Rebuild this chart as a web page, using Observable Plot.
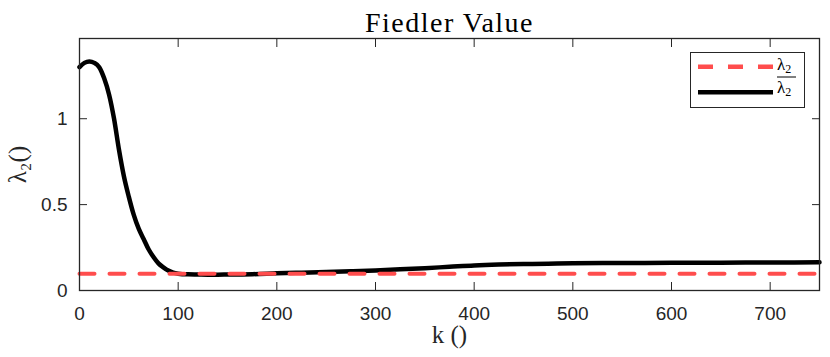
<!DOCTYPE html>
<html><head><meta charset="utf-8">
<script src="https://cdn.jsdelivr.net/npm/d3@7"></script>
<script src="https://cdn.jsdelivr.net/npm/@observablehq/plot@0.6"></script>
<style>
body{margin:0;background:#fff;}
#wrap{position:relative;width:830px;height:357px;overflow:hidden;}
#legend{position:absolute;left:690px;top:52px;}
</style></head><body><div id="wrap"></div>
<script>
const title = "Fiedler Value";
const xLabel = "k ()";
const yLabel = "λ₂()";
const kValues = [0,5,10,15,20,25,30,35,40,45,50,55,60,65,70,75,80,85,90,95,100,110,120,130,140,150,175,200,225,250,275,300,325,350,375,400,425,450,475,500,550,600,650,700,750];
const lambdaBar = [1.30,1.325,1.333,1.325,1.30,1.235,1.14,1.00,0.82,0.665,0.545,0.44,0.36,0.30,0.24,0.195,0.158,0.135,0.116,0.104,0.098,0.094,0.093,0.092,0.092,0.093,0.095,0.100,0.104,0.108,0.112,0.117,0.123,0.130,0.138,0.146,0.151,0.154,0.156,0.158,0.160,0.161,0.162,0.163,0.164];
const boundK = [0,750];
const lambdaLow = [0.097,0.097];
const xTicks = [0,100,200,300,400,500,600,700];
const yTicks = [0,0.5,1];
const legendNames = ["λ", "λ"];
const legendSubs = ["2", "2"];

const axisColor = "#262626";
const red = "#ff4d4d";
const mainData = kValues.map((k,i)=>({k, v: lambdaBar[i]}));
const lowData = boundK.map((k,i)=>({k, v: lambdaLow[i]}));

const chart = Plot.plot({
  width: 830, height: 357,
  marginLeft: 79, marginRight: 11, marginTop: 38, marginBottom: 67,
  x: {domain:[0,750]},
  y: {domain:[0,1.467]},
  style: {fontFamily: '"Liberation Sans", Arial, sans-serif', fontSize: "19px", color: axisColor, background: "#fff"},
  marks: [
    Plot.lineY(mainData, {x:"k", y:"v", stroke:"#000", strokeWidth:4.5, curve:"monotone-x"}),
    Plot.lineY(lowData, {x:"k", y:"v", stroke:red, strokeWidth:4, strokeDasharray:"15,15"}),
    Plot.frame({stroke: axisColor, strokeWidth: 1.3}),
    Plot.axisX({ticks:xTicks, tickSize:-8, tickPadding:24, label:null, stroke:axisColor, fill:axisColor}),
    Plot.axisX({anchor:"top", ticks:xTicks, tickSize:-8, tickFormat:()=>"", label:null, stroke:axisColor}),
    Plot.axisY({ticks:yTicks, tickSize:-8, tickPadding:20, label:null, stroke:axisColor, fill:axisColor, tickFormat: d=>String(d)}),
    Plot.axisY({anchor:"right", ticks:yTicks, tickSize:-8, tickFormat:()=>"", label:null, stroke:axisColor}),
    Plot.text([title], {text:d=>d, frameAnchor:"top", dy:-26, fontFamily:'"Liberation Serif", serif', fontSize:28, fill:"#000", className:"ttl"}),
    Plot.text([xLabel], {text:d=>d, frameAnchor:"bottom", dy:52, fontFamily:'"Liberation Serif", serif', fontSize:25, fill:axisColor}),
    Plot.text([yLabel], {text:d=>d, frameAnchor:"left", dx:-62, rotate:-90, textAnchor:"middle", fontFamily:'"Liberation Serif", serif', fontSize:25, fill:axisColor, className:"ylab"})
  ]
});
const wrap = document.getElementById("wrap");
wrap.appendChild(chart);
d3.select(chart).selectAll(".ttl text").style("letter-spacing","1.5px");

// legend
const lg = d3.create("svg").attr("id","legend").attr("width",116).attr("height",57);
lg.append("rect").attr("x",0.5).attr("y",0.5).attr("width",114).attr("height",55)
  .attr("fill","#fff").attr("stroke",axisColor).attr("stroke-width",1);
const rows = [
  {y: 14.7, color: red, dash: "15,15", tb: 18},
  {y: 40.3, color: "#000", dash: null, tb: 41}
];
rows.forEach((r,i) => {
  lg.append("line").attr("x1",8).attr("x2",83).attr("y1",r.y).attr("y2",r.y)
    .attr("stroke", r.color).attr("stroke-width", 4.5).attr("stroke-dasharray", r.dash);
  const t = lg.append("text").attr("x",87).attr("y",r.tb)
    .attr("font-family",'"Liberation Serif", serif').attr("font-size",17).attr("fill","#000");
  t.append("tspan").text(legendNames[i]);
  t.append("tspan").attr("dy",3).attr("font-size",12).text(legendSubs[i]);
});
lg.append("line").attr("x1",87).attr("x2",106).attr("y1",25).attr("y2",25)
  .attr("stroke","#000").attr("stroke-width",1);
wrap.appendChild(lg.node());
</script>
</body></html>
